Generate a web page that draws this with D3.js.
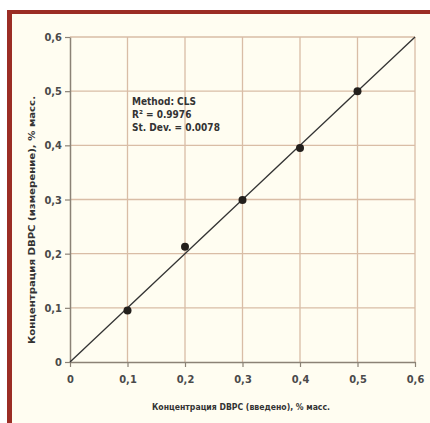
<!DOCTYPE html>
<html><head><meta charset="utf-8">
<script src="https://cdn.jsdelivr.net/npm/d3@7"></script>
<style>
html,body{margin:0;padding:0;background:#fff;}
svg{display:block;}
</style></head>
<body>
<svg id="c" width="430" height="423"></svg>
<script>
const xTicks = [0, 0.1, 0.2, 0.3, 0.4, 0.5, 0.6];
const yTicks = [0, 0.1, 0.2, 0.3, 0.4, 0.5, 0.6];
const introduced = [0.1, 0.2, 0.3, 0.4, 0.5];
const measured = [0.095, 0.213, 0.299, 0.395, 0.5];
const fitLine = [[0, 0], [0.6, 0.6]];
const annotation = ["Method: CLS", "R² = 0.9976", "St. Dev. = 0.0078"];
const xTitle = "Концентрация DBPC (введено), % масс.";
const yTitle = "Концентрация DBPC (измерение), % масс.";

const svg = d3.select("#c");
const font = "'Liberation Sans Narrow','DejaVu Sans Condensed',sans-serif";

// frame
svg.append("rect").attr("x",7).attr("y",10).attr("width",423).attr("height",413).attr("fill","#9b2d24");
svg.append("rect").attr("x",12).attr("y",14).attr("width",418).attr("height",409).attr("fill","#fffdf1");

const x = d3.scaleLinear().domain([0,0.6]).range([70,415]);
const y = d3.scaleLinear().domain([0,0.6]).range([362,37]);

// grid
svg.append("g").selectAll("line").data(xTicks.slice(1)).join("line")
  .attr("x1",d=>x(d)).attr("x2",d=>x(d)).attr("y1",y(0)).attr("y2",y(0.6))
  .attr("stroke","#d9bda6").attr("stroke-width",1.3);
svg.append("g").selectAll("line").data(yTicks.slice(1)).join("line")
  .attr("y1",d=>y(d)).attr("y2",d=>y(d)).attr("x1",x(0)).attr("x2",x(0.6))
  .attr("stroke","#d9bda6").attr("stroke-width",1.3);

const fmt = d => d===0 ? "0" : d3.format(".1f")(d).replace(".", ",");

const xa = svg.append("g").attr("transform",`translate(0,${y(0)})`)
  .call(d3.axisBottom(x).tickValues(xTicks).tickFormat(fmt).tickSize(5).tickSizeOuter(0));
const ya = svg.append("g").attr("transform",`translate(${x(0)},0)`)
  .call(d3.axisLeft(y).tickValues(yTicks).tickFormat(fmt).tickSize(5).tickSizeOuter(0));
[xa,ya].forEach(a=>{
  a.select(".domain").attr("stroke","#8b8276").attr("stroke-width",1.5);
  a.selectAll(".tick line").attr("stroke","#8b8276").attr("stroke-width",1.2);
  a.selectAll(".tick text").attr("fill","#4a4a4a").style("font-family",font)
   .style("font-size","11px").style("font-weight","bold");
});
xa.selectAll(".tick text").attr("dy","0.71em").attr("y",13);
ya.selectAll(".tick text").attr("x",-8);

// fit line
svg.append("path").datum(fitLine)
  .attr("d", d3.line().x(d=>x(d[0])).y(d=>y(d[1])))
  .attr("stroke","#333").attr("stroke-width",1.3).attr("fill","none");

// points
svg.append("g").selectAll("circle").data(introduced).join("circle")
  .attr("cx",d=>x(d)).attr("cy",(d,i)=>y(measured[i])).attr("r",4)
  .attr("fill","#231f1c");

// annotation
svg.append("g").selectAll("text").data(annotation).join("text")
  .attr("x",132).attr("y",(d,i)=>105+i*12.8).text(d=>d)
  .attr("fill","#333").style("font-family",font).style("font-size","10px").style("font-weight","bold");

// titles
svg.append("text").attr("x",241).attr("y",410).attr("text-anchor","middle").text(xTitle)
  .attr("fill","#333").style("font-family",font).style("font-size","9px").style("font-weight","bold")
  .attr("textLength",178).attr("lengthAdjust","spacingAndGlyphs");
svg.append("text").attr("transform","translate(35,220) rotate(-90)").attr("text-anchor","middle").text(yTitle)
  .attr("fill","#333").style("font-family",font).style("font-size","9px").style("font-weight","bold")
  .attr("textLength",248).attr("lengthAdjust","spacingAndGlyphs");
</script>
</body></html>
